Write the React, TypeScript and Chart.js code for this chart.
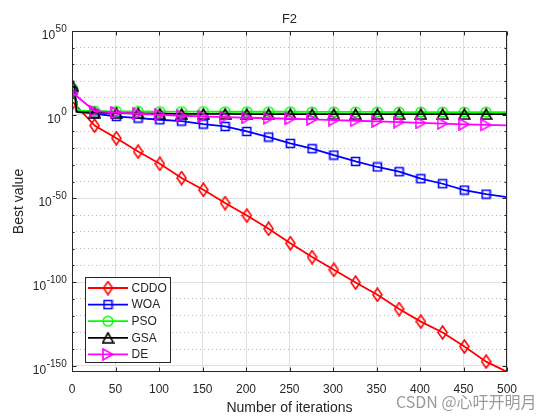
import { useEffect, useRef } from "react";
import { Chart, registerables } from "chart.js";

Chart.register(...registerables);

// ---------------- data ----------------
// iteration numbers at which values were read
const ITERS = [1, 3, 5, 7, 10, 26, 51, 76, 101, 126, 151, 176, 201, 226, 251, 276, 301, 326, 351, 376, 401, 426, 451, 476, 500];

const SERIES_NAMES = ["CDDO", "WOA", "PSO", "GSA", "DE"];

// values are log10(best value); null = not read at that iteration
const CDDO_LOG10 = [7.5, null, null, null, null, -6.5, -14, -22, -29.3, -37.8, -44.8, -52.7, -60.2, -68.1, -76.7, -85, -92.6, -100.2, -107.5, -116, -123.5, -130, -138.4, -147.4, -153.5];
const WOA_LOG10 = [14, 13, 7, 2.5, 1.8, 0.6, -1, -2, -3, -3.8, -5.6, -7, -10, -13.3, -17.1, -20.3, -24.1, -27.9, -31.2, -34, -38.2, -41.2, -45, -47.4, -49.2];
const PSO_LOG10 = [15, 12, 6, 3, 2.5, 2.2, 2.0, 2.0, 1.9, 1.9, 1.9, 1.8, 1.8, 1.8, 1.8, 1.7, 1.7, 1.7, 1.7, 1.6, 1.6, 1.6, 1.6, 1.6, 1.6];
const GSA_LOG10 = [17, 16.5, 1.8, 1.6, 1.5, 1.3, 1.0, 0.8, 0.6, 0.5, 0.5, 0.5, 0.4, 0.4, 0.4, 0.4, 0.4, 0.4, 0.4, 0.4, 0.4, 0.4, 0.4, 0.4, 0.4];
const DE_LOG10 = [13, null, null, null, null, 2.2, 1.3, 0.6, 0, -0.6, -1.0, -1.4, -1.8, -2.1, -2.4, -2.8, -3.2, -3.6, -4.0, -4.4, -4.9, -5.3, -5.7, -6.1, -6.4];

const SERIES_VALUES = [CDDO_LOG10, WOA_LOG10, PSO_LOG10, GSA_LOG10, DE_LOG10];

// axis ticks
const X_TICKS = [0, 50, 100, 150, 200, 250, 300, 350, 400, 450, 500];
const Y_MAJOR_EXP = [-150, -100, -50, 0, 50];
const Y_GRID_EXP = [-150, -140, -130, -120, -110, -100, -90, -80, -70, -60, -50, -40, -30, -20, -10, 0, 10, 20, 30, 40, 50];
const Y_MIN_EXP = -153.6;
const Y_MAX_EXP = 50;

// ---------------- styles ----------------
const COLORS = ["#ff0000", "#0000ff", "#00ff00", "#000000", "#ff00ff"];
const MARKERS = ["diamond", "square", "circle", "triUp", "triRight"];
const ORDERS = [5, 4, 3, 2, 1];
const FONT = '"Liberation Sans", Arial, Helvetica, sans-serif';
const AXIS_COLOR = "#262626";
const MAJOR_GRID = "#dfdfdf";
const MINOR_GRID = "#b8b8b8";

function makeMarker(kind: string, color: string): HTMLCanvasElement {
  const sizes: Record<string, [number, number]> = {
    diamond: [11, 15],
    square: [11, 11],
    circle: [12, 12],
    triUp: [13, 12],
    triRight: [12, 13],
  };
  const [w, h] = sizes[kind];
  const c = document.createElement("canvas");
  c.width = w;
  c.height = h;
  const g = c.getContext("2d")!;
  g.strokeStyle = color;
  g.lineWidth = 1.6;
  g.lineJoin = "miter";
  g.beginPath();
  if (kind === "diamond") {
    g.moveTo(w / 2, 1);
    g.lineTo(w - 1, h / 2);
    g.lineTo(w / 2, h - 1);
    g.lineTo(1, h / 2);
    g.closePath();
  } else if (kind === "square") {
    g.rect(1.5, 1.5, w - 3, h - 3);
  } else if (kind === "circle") {
    g.arc(w / 2, h / 2, w / 2 - 1.2, 0, Math.PI * 2);
  } else if (kind === "triUp") {
    g.moveTo(w / 2, 1);
    g.lineTo(w - 1, h - 1);
    g.lineTo(1, h - 1);
    g.closePath();
  } else {
    g.moveTo(1, 1);
    g.lineTo(w - 1, h / 2);
    g.lineTo(1, h - 1);
    g.closePath();
  }
  g.stroke();
  return c;
}

function isMarkerIter(it: number): boolean {
  return it < 500 && (it - 1) % 25 === 0;
}

function expOf(v: number): number {
  return Math.round(Math.log10(v));
}

const decorPlugin = {
  id: "decor",
  afterDraw(chart: any) {
    const { ctx, chartArea: a, scales } = chart;
    const xs = scales.x;
    const ys = scales.y;
    ctx.save();
    // box
    ctx.strokeStyle = AXIS_COLOR;
    ctx.lineWidth = 1;
    const L = Math.round(a.left) + 0.5;
    const R = Math.round(a.right) - 0.5;
    const T = Math.round(a.top) + 0.5;
    const B = Math.round(a.bottom) - 0.5;
    ctx.beginPath();
    ctx.rect(L, T, R - L, B - T);
    ctx.stroke();
    // inward ticks
    ctx.beginPath();
    for (const v of X_TICKS) {
      const px = Math.round(xs.getPixelForValue(v)) + 0.5;
      ctx.moveTo(px, B);
      ctx.lineTo(px, B - 4);
      ctx.moveTo(px, T);
      ctx.lineTo(px, T + 4);
    }
    for (const e of Y_GRID_EXP) {
      const py = Math.round(ys.getPixelForValue(Math.pow(10, e))) + 0.5;
      const len = e % 50 === 0 ? 4 : 2;
      ctx.moveTo(L, py);
      ctx.lineTo(L + len, py);
      ctx.moveTo(R, py);
      ctx.lineTo(R - len, py);
    }
    ctx.stroke();

    // y tick labels 10^e
    ctx.fillStyle = AXIS_COLOR;
    ctx.textBaseline = "middle";
    const rightEdge = a.left - 5.3;
    for (const e of Y_MAJOR_EXP) {
      const py = ys.getPixelForValue(Math.pow(10, e));
      const expTxt = String(e);
      ctx.font = `10px ${FONT}`;
      const ew = ctx.measureText(expTxt).width;
      ctx.textAlign = "left";
      ctx.fillText(expTxt, rightEdge - ew, py - 2);
      ctx.font = `12px ${FONT}`;
      ctx.textAlign = "right";
      ctx.fillText("10", rightEdge - ew - 0.5, py + 4.5);
    }

    // title
    const cx = (a.left + a.right) / 2;
    ctx.textAlign = "center";
    ctx.font = `13px ${FONT}`;
    ctx.fillText("F2", cx, 19.5);
    // x title
    ctx.font = `14px ${FONT}`;
    ctx.fillText("Number of iterations", cx, 408.5);
    // y title
    ctx.save();
    ctx.translate(19, (a.top + a.bottom) / 2);
    ctx.rotate(-Math.PI / 2);
    ctx.fillText("Best value", 0, 0);
    ctx.restore();

    // legend
    const lx = 85.5, ly = 277.5, lw = 85, lh = 85;
    ctx.fillStyle = "#ffffff";
    ctx.fillRect(lx, ly, lw, lh);
    ctx.strokeStyle = AXIS_COLOR;
    ctx.lineWidth = 1;
    ctx.strokeRect(lx, ly, lw, lh);
    chart.data.datasets.forEach((ds: any, i: number) => {
      const ry = 288 + i * 16.6;
      ctx.strokeStyle = ds.borderColor;
      ctx.lineWidth = 1.8;
      ctx.beginPath();
      ctx.moveTo(88, ry);
      ctx.lineTo(128, ry);
      ctx.stroke();
      const m: HTMLCanvasElement = ds.pointStyle;
      ctx.drawImage(m, 108 - m.width / 2, ry - m.height / 2);
      ctx.fillStyle = AXIS_COLOR;
      ctx.font = `12px ${FONT}`;
      ctx.textAlign = "left";
      ctx.fillText(ds.label, 131.5, ry + 0.5);
    });

    // watermark
    ctx.font = `16px "Noto Sans CJK SC", ${FONT}`;
    ctx.textAlign = "left";
    ctx.fillStyle = "rgba(255,255,255,0.8)";
    ctx.fillText("CSDN @心吁开明月", 397, 403);
    ctx.fillStyle = "#9a9a9a";
    ctx.fillText("CSDN @心吁开明月", 396, 402);
    ctx.restore();
  },
};

export default function App() {
  const ref = useRef<HTMLCanvasElement | null>(null);

  useEffect(() => {
    const canvas = ref.current;
    if (!canvas) return;
    const datasets = SERIES_NAMES.map((name, si) => ({
      label: name,
      data: ITERS.map((it, i) => ({
        x: it,
        y: SERIES_VALUES[si][i] === null ? null : Math.pow(10, SERIES_VALUES[si][i] as number),
      })),
      borderColor: COLORS[si],
      backgroundColor: COLORS[si],
      borderWidth: 1.8,
      tension: 0,
      spanGaps: true,
      order: ORDERS[si],
      pointStyle: makeMarker(MARKERS[si], COLORS[si]),
      pointRadius: (c: any) => (isMarkerIter(ITERS[c.dataIndex]) ? 5 : 0),
      pointHoverRadius: 0,
    }));

    const chart = new Chart(canvas, {
      type: "line",
      data: { datasets } as any,
      options: {
        animation: false,
        responsive: false,
        devicePixelRatio: 1,
        events: [],
        layout: { padding: { top: 31, right: 53, left: 0, bottom: 0 } },
        plugins: {
          legend: { display: false },
          tooltip: { enabled: false },
          title: { display: false },
        },
        scales: {
          x: {
            type: "linear",
            min: 0,
            max: 500,
            afterBuildTicks: (s: any) => {
              s.ticks = X_TICKS.map((v) => ({ value: v }));
            },
            afterFit: (s: any) => {
              s.height = 48;
            },
            grid: { color: MAJOR_GRID, lineWidth: 1, drawTicks: false },
            border: { display: false },
            ticks: {
              autoSkip: false,
              maxRotation: 0,
              padding: 10,
              color: AXIS_COLOR,
              font: { family: FONT, size: 12 },
            },
          },
          y: {
            type: "logarithmic",
            min: Math.pow(10, Y_MIN_EXP),
            max: Math.pow(10, Y_MAX_EXP),
            afterBuildTicks: (s: any) => {
              s.ticks = Y_GRID_EXP.map((e) => ({ value: Math.pow(10, e) }));
            },
            afterFit: (s: any) => {
              s.width = 72;
            },
            grid: {
              drawTicks: false,
              lineWidth: 1,
              color: (c: any) =>
                c.tick && expOf(c.tick.value) % 50 !== 0 ? MINOR_GRID : MAJOR_GRID,
            },
            border: {
              display: false,
              dash: (c: any) =>
                c.tick && expOf(c.tick.value) % 50 !== 0 ? [1, 3] : [],
            },
            ticks: { display: false },
          },
        },
      } as any,
      plugins: [decorPlugin],
    });
    return () => chart.destroy();
  }, []);

  return (
    <div style={{ position: "fixed", left: 0, top: 0, width: 560, height: 420, background: "#ffffff" }}>
      <canvas ref={ref} width={560} height={420} style={{ display: "block" }} />
    </div>
  );
}
